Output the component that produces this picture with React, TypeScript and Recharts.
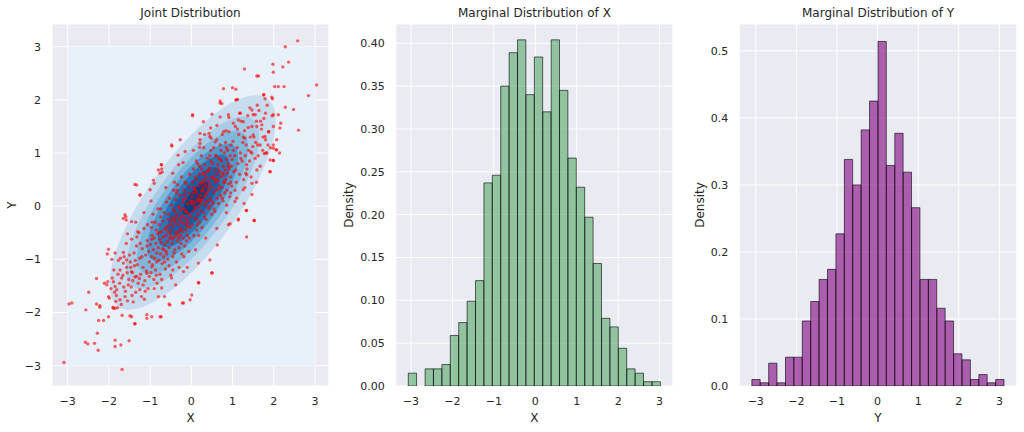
import React from 'react';
import { ScatterChart, Scatter, XAxis, YAxis, CartesianGrid, BarChart, Bar } from 'recharts';

const FONT = 'DejaVu Sans';
const TEXT = '#262626';

// ---------- tick labels ----------
const unitTicks = [-3, -2, -1, 0, 1, 2, 3];
const densityTicksX = [0, 0.05, 0.1, 0.15, 0.2, 0.25, 0.3, 0.35, 0.4];
const densityTicksY = [0, 0.1, 0.2, 0.3, 0.4, 0.5];

// ---------- titles ----------
const titles = ['Joint Distribution', 'Marginal Distribution of X', 'Marginal Distribution of Y'];

// ---------- marginal X histogram (bin centres, density) ----------
const xBinCenters = [-2.964, -2.761, -2.558, -2.355, -2.152, -1.950, -1.747, -1.544, -1.341, -1.138,
  -0.935, -0.733, -0.530, -0.327, -0.124, 0.079, 0.282, 0.485, 0.687, 0.890,
  1.093, 1.296, 1.499, 1.702, 1.904, 2.107, 2.310, 2.513, 2.716, 2.919];
const xDensity = [0.015, 0, 0.020, 0.020, 0.025, 0.059, 0.074, 0.099, 0.123, 0.237,
  0.246, 0.350, 0.389, 0.404, 0.340, 0.384, 0.320, 0.404, 0.345, 0.266,
  0.232, 0.197, 0.143, 0.079, 0.069, 0.044, 0.020, 0.015, 0.005, 0.005];

// ---------- marginal Y histogram ----------
const yBinCenters = [-2.992, -2.785, -2.578, -2.371, -2.164, -1.957, -1.750, -1.543, -1.336, -1.129,
  -0.922, -0.715, -0.508, -0.301, -0.094, 0.114, 0.321, 0.528, 0.735, 0.942,
  1.149, 1.356, 1.563, 1.770, 1.977, 2.184, 2.391, 2.598, 2.805, 3.012];
const yDensity = [0.0097, 0.0048, 0.034, 0.0048, 0.043, 0.043, 0.097, 0.126, 0.159, 0.174,
  0.227, 0.338, 0.300, 0.382, 0.425, 0.514, 0.329, 0.377, 0.319, 0.266,
  0.159, 0.159, 0.116, 0.097, 0.048, 0.039, 0.0097, 0.017, 0.0048, 0.0097];

// ---------- KDE filled contour levels (outline vertices, data units) ----------
const kdeColors = ['#e8f1fa', '#c7dcef', '#a8cce6', '#80b8dc', '#5499cb', '#2b78b9', '#1160a7', '#093f80'];
const kdeLevel0: [number, number][] = [[-3, -3], [3, -3], [3, 3], [-3, 3]];
const kdeLevel1: [number, number][] = [[2.01, 2.05], [2.11, 1.43], [1.65, 0.43], [0.75, -0.65], [-0.33, -1.55], [-1.33, -2.01], [-1.95, -1.91], [-2.05, -1.29], [-1.59, -0.29], [-0.69, 0.79], [0.39, 1.69], [1.39, 2.15]];
const kdeLevel2: [number, number][] = [[1.62, 1.66], [1.70, 1.16], [1.33, 0.36], [0.61, -0.51], [-0.26, -1.23], [-1.06, -1.60], [-1.56, -1.52], [-1.64, -1.02], [-1.27, -0.22], [-0.55, 0.65], [0.32, 1.37], [1.12, 1.74]];
const kdeLevel3: [number, number][] = [[1.36, 1.40], [1.42, 0.98], [1.12, 0.31], [0.51, -0.41], [-0.21, -1.02], [-0.88, -1.32], [-1.30, -1.26], [-1.36, -0.84], [-1.06, -0.17], [-0.45, 0.55], [0.27, 1.16], [0.94, 1.46]];
const kdeLevel4: [number, number][] = [[1.12, 1.16], [1.17, 0.82], [0.92, 0.27], [0.43, -0.33], [-0.17, -0.82], [-0.72, -1.07], [-1.06, -1.02], [-1.11, -0.68], [-0.86, -0.13], [-0.37, 0.47], [0.23, 0.96], [0.78, 1.21]];
const kdeLevel5: [number, number][] = [[0.92, 0.96], [0.96, 0.69], [0.76, 0.26], [0.37, -0.21], [-0.10, -0.60], [-0.53, -0.80], [-0.80, -0.76], [-0.84, -0.49], [-0.64, -0.06], [-0.25, 0.41], [0.22, 0.80], [0.65, 1.00]];
const kdeLevel6: [number, number][] = [[0.68, 0.72], [0.72, 0.53], [0.57, 0.21], [0.29, -0.13], [-0.05, -0.41], [-0.37, -0.56], [-0.56, -0.52], [-0.60, -0.33], [-0.45, -0.01], [-0.17, 0.33], [0.17, 0.61], [0.49, 0.76]];
const kdeLevel7: [number, number][] = [[0.41, 0.46], [0.42, 0.36], [0.35, 0.21], [0.21, 0.04], [0.04, -0.10], [-0.11, -0.17], [-0.21, -0.16], [-0.22, -0.06], [-0.15, 0.09], [-0.01, 0.26], [0.16, 0.40], [0.31, 0.47]];

// ---------- joint scatter points (x, y) ----------
const jointPoints: [number, number][] = [
  [2.58, 3.11], [2.28, 3.0], [2.36, 2.71], [2.22, 2.62], [1.98, 2.67], [1.99, 2.52], [1.29, 2.58], [1.63, 2.45], [1.59, 2.45], [2.02, 2.25],
  [2.11, 2.25], [2.25, 2.25], [3.04, 2.28], [2.84, 2.08], [1.97, 2.02], [1.79, 2.02], [1.76, 2.1], [2.28, 1.86], [2.48, 1.82], [2.6, 1.43],
  [0.78, 2.21], [1.0, 2.23], [1.08, 2.2], [1.08, 2.0], [1.12, 2.01], [0.03, 1.70], [0.7, 1.98], [0.74, 1.93], [0.91, 1.67], [1.99, 1.72],
  [2.11, 1.72], [1.99, 1.5], [2.17, 1.56], [2.15, 1.47], [1.79, 1.31], [1.99, 1.09], [2.07, 1.25], [2.07, 1.06], [2.14, 1.0], [1.83, 1.0],
  [1.77, 0.99], [1.99, 0.86], [1.91, 0.65], [1.47, 0.22], [1.53, -0.27], [1.34, -0.08], [1.14, -0.24], [0.94, -0.33], [1.34, -0.58], [0.5, -1.25],
  [0.18, -1.44], [0.01, -1.67], [-0.22, -1.82], [-0.54, -1.84], [-0.73, -2.08], [-0.96, -2.08], [-1.08, -2.11], [-1.37, -2.21], [-1.49, -2.06], [-1.51, -2.53],
  [-1.68, -3.07], [-1.71, -2.61], [-1.85, -2.52], [-1.85, -2.64], [-2.26, -2.71], [-2.28, -2.39], [-2.25, -2.15], [-2.13, -2.15], [-2.22, -1.87], [-2.3, -1.84],
  [-2.57, -2.56], [-2.51, -2.59], [-2.35, -2.58], [-2.56, -1.95], [-2.49, -1.62], [-2.3, -1.36], [-2.97, -1.84], [-2.9, -1.82], [-3.09, -2.94], [-2.01, -0.81],
  [-2.04, -0.9], [-2.03, -1.42], [-1.99, -1.73], [-1.89, -1.92], [-1.79, -1.91], [-1.83, -1.79], [-2.11, -1.45], [-1.85, -1.51], [-1.65, -0.23], [-1.59, -0.2],
  [-1.37, 0.41], [-1.24, 0.21], [-1.3, -0.48], [-1.65, -0.87], [-1.57, -1.01], [-1.42, -1.4], [-0.47, 1.13], [-0.73, 0.78], [-0.71, 0.64], [-0.9, 0.43],
  [-0.76, 0.62], [-0.31, 0.78], [0.21, 1.25], [0.2, 1.11], [0.47, 1.47], [0.43, 1.37],
  [-1.85, -0.88], [-1.93, -1.0], [-1.61, -0.16], [-1.58, -0.26], [-1.45, -0.29], [-2.01, -1.70], [-2.05, -1.48], [-1.89, -1.42], [-1.81, -1.57], [-2.22, -1.90],
  [-2.01, -2.08], [-1.85, -1.92], [-1.45, -2.08], [-1.08, -2.04], [-0.76, -2.08], [-1.37, -2.21], [-0.80, -1.70], [-0.52, -1.86], [-0.19, -1.82], [-0.03, -1.76],
  [0.17, -1.44], [0.45, -1.01], [0.50, -1.26], [1.52, -0.27], [1.14, -0.26], [0.90, -0.35], [0.63, -0.73], [0.86, 0.02], [1.06, 0.09], [1.33, -0.08],
  [0.17, -1.07], [-0.19, -1.23], [-0.48, -1.35], [-0.72, -1.54], [-1.17, -1.48], [-1.33, -1.32], [-1.45, -1.23], [-1.65, -1.07], [-1.73, -1.2], [-1.69, -1.35],
  [-1.53, -1.48], [-1.08, -1.26], [-0.96, -1.14], [-1.25, -1.57], [-1.61, -1.70], [-1.73, -1.76],
  [1.75, 2.09], [1.95, 2.05], [1.10, 2.0], [0.70, 1.94], [0.03, 1.72], [0.29, 1.59], [0.50, 1.73], [0.70, 1.68], [0.90, 1.72], [1.18, 1.75],
  [1.47, 1.81], [1.55, 1.72], [1.71, 1.53], [1.87, 1.40], [1.99, 1.15], [2.06, 1.06], [1.91, 0.87], [1.99, 0.86], [1.91, 0.65], [1.81, 1.0],
  [-0.27, 1.25], [-0.48, 1.15], [-0.32, 0.96], [-0.15, 1.03], [-0.72, 0.78], [-0.72, 0.70], [-0.80, 0.68], [-0.92, 0.49], [-1.33, 0.40], [-1.0, 0.31],
  [-1.25, 0.21], [0.21, 1.37], [0.21, 1.18], [0.45, 1.31], [0.58, 1.21], [0.78, 1.40], [1.02, 1.56], [1.26, 1.59], [1.59, 1.50], [1.30, 1.28],
  [1.50, 1.34], [1.67, 1.15], [1.47, 1.0], [1.34, 0.78], [1.59, 0.68], [1.47, 0.43], [1.26, 0.31], [1.34, 0.59],
  [-1.95, -1.55], [-1.88, -1.2], [-1.82, -1.68], [-1.77, -1.02], [-1.74, -1.45], [-1.7, -1.85], [-1.66, -1.3], [-1.63, -0.95], [-1.6, -1.6], [-1.57, -1.15],
  [-1.55, -1.78], [-1.52, -1.38], [-1.9, -1.9], [-1.68, -2.05], [-1.58, -0.7],
  [-1.48, -1.05], [-1.46, -1.52], [-1.45, -0.62], [-1.43, -1.25], [-1.41, -1.8], [-1.39, -0.88], [-1.37, -1.33], [-1.35, -1.62], [-1.33, -0.75], [-1.31, -1.1],
  [-1.29, -1.45], [-1.27, -0.5], [-1.25, -0.98], [-1.23, -1.28], [-1.21, -1.7], [-1.19, -0.8], [-1.17, -1.15], [-1.15, -0.42], [-1.13, -1.4], [-1.11, -0.92],
  [-1.09, -1.22], [-1.07, -0.65], [-1.05, -1.55], [-1.03, -0.85], [-1.02, -1.05], [-1.47, -1.15], [-1.36, -1.02], [-1.24, -0.7], [-1.12, -1.6], [-1.06, -0.35],
  [-0.99, -0.72], [-0.98, -1.25], [-0.97, -0.4], [-0.96, -0.95], [-0.95, -0.55], [-0.94, -1.1], [-0.93, -0.15], [-0.92, -0.82], [-0.91, -1.38], [-0.9, -0.6],
  [-0.89, -0.98], [-0.88, -0.3], [-0.87, -1.2], [-0.86, -0.7], [-0.85, -0.45], [-0.84, -0.88], [-0.83, -1.45], [-0.82, -0.52], [-0.81, -0.05], [-0.8, -0.78],
  [-0.79, -1.02], [-0.78, -0.35], [-0.77, -0.62], [-0.76, -1.28], [-0.75, -0.9], [-0.74, -0.2], [-0.73, -0.68], [-0.72, -0.48], [-0.71, -1.08], [-0.7, -0.8],
  [-0.69, -0.28], [-0.68, -0.58], [-0.67, -0.95], [-0.66, -0.12], [-0.65, -0.72], [-0.64, -0.42], [-0.63, -1.18], [-0.62, -0.55], [-0.61, -0.85], [-0.6, 0.08],
  [-0.59, -0.38], [-0.58, -0.66], [-0.57, -1.0], [-0.56, -0.25], [-0.55, -0.5], [-0.54, -0.78], [-0.53, 0.15], [-0.52, -0.6], [-0.51, -0.35], [-0.5, -1.3],
  [-0.49, -0.45], [-0.48, 0.02], [-0.47, -0.7], [-0.46, -0.22], [-0.45, -0.95], [-0.44, -0.38], [-0.43, 0.3], [-0.42, -0.58], [-0.41, -0.1], [-0.4, -0.82],
  [-0.39, -0.3], [-0.38, 0.12], [-0.37, -0.5], [-0.36, -1.05], [-0.35, -0.15], [-0.34, -0.65], [-0.33, 0.4], [-0.32, -0.35], [-0.31, -0.02], [-0.3, -0.78],
  [-0.29, -0.25], [-0.28, 0.2], [-0.27, -0.55], [-0.26, -0.08], [-0.25, -0.42], [-0.24, 0.55], [-0.23, -0.9], [-0.22, -0.18], [-0.21, 0.08], [-0.2, -0.6],
  [-0.19, -0.32], [-0.18, 0.3], [-0.17, -0.05], [-0.16, -0.75], [-0.15, -0.22], [-0.14, 0.15], [-0.13, -0.45], [-0.12, 0.42], [-0.11, -0.12], [-0.1, -0.55],
  [-0.09, 0.05], [-0.08, -0.3], [-0.07, 0.25], [-0.06, -0.85], [-0.05, -0.15], [-0.04, 0.6], [-0.03, -0.4], [-0.02, 0.1], [-0.01, -0.2], [-0.46, -0.62],
  [-0.41, 0.45], [-0.37, -0.2], [-0.33, -0.5], [-0.29, 0.0], [-0.25, -0.3], [-0.21, -0.48], [-0.17, 0.22], [-0.13, -0.1], [-0.09, -0.38], [-0.05, 0.35],
  [-0.44, -0.05], [-0.36, 0.25], [-0.28, -0.45], [-0.2, 0.12], [-0.12, -0.65],
  [0.01, 0.18], [0.02, -0.35], [0.03, 0.45], [0.04, -0.1], [0.05, 0.7], [0.06, -0.55], [0.07, 0.05], [0.08, 0.32], [0.09, -0.22], [0.1, 0.55],
  [0.11, -0.05], [0.12, 0.25], [0.13, -0.45], [0.14, 0.1], [0.15, 0.8], [0.16, -0.15], [0.17, 0.38], [0.18, 0.0], [0.19, 0.6], [0.2, -0.3],
  [0.21, 0.2], [0.22, 0.45], [0.23, -0.08], [0.24, 0.95], [0.25, 0.28], [0.26, -0.4], [0.27, 0.12], [0.28, 0.62], [0.29, 0.35], [0.3, -0.12],
  [0.31, 0.5], [0.32, 0.18], [0.33, 0.78], [0.34, 0.02], [0.35, 0.4], [0.36, -0.25], [0.37, 0.65], [0.38, 0.25], [0.39, 0.9], [0.4, 0.1],
  [0.41, 0.48], [0.42, -0.05], [0.43, 0.3], [0.44, 0.72], [0.45, 0.42], [0.46, 0.15], [0.47, 1.05], [0.48, 0.55], [0.49, -0.15], [0.04, 0.25],
  [0.08, -0.02], [0.12, 0.5], [0.16, 0.15], [0.2, 0.75], [0.24, 0.05], [0.28, 0.3], [0.32, -0.2], [0.36, 0.55], [0.4, 0.35], [0.44, 0.0],
  [0.48, 0.85], [0.06, 0.35], [0.14, -0.25], [0.22, 0.12], [0.3, 0.6],
  [0.5, 0.35], [0.51, 0.8], [0.52, 0.05], [0.53, 0.55], [0.54, 1.1], [0.55, 0.25], [0.56, 0.68], [0.57, -0.1], [0.58, 0.45], [0.59, 0.95],
  [0.6, 0.3], [0.61, 0.6], [0.62, 1.25], [0.63, 0.15], [0.64, 0.78], [0.65, 0.48], [0.66, 0.05], [0.67, 0.9], [0.68, 0.38], [0.69, 0.65],
  [0.7, 1.15], [0.71, 0.2], [0.72, 0.55], [0.73, 0.85], [0.74, 0.35], [0.75, 1.35], [0.76, 0.62], [0.77, 0.1], [0.78, 0.75], [0.79, 0.45],
  [0.8, 1.0], [0.81, 0.25], [0.82, 0.68], [0.83, 1.2], [0.84, 0.5], [0.85, 0.88], [0.86, 0.3], [0.87, 0.62], [0.88, 1.05], [0.89, 0.8],
  [0.9, 0.42], [0.91, 1.4], [0.92, 0.7], [0.93, 0.18], [0.94, 0.95], [0.95, 0.55], [0.96, 1.15], [0.97, 0.75], [0.98, 0.38], [0.99, 0.88],
  [1.01, 1.22], [1.03, 0.65], [1.05, 0.95], [1.07, 1.5], [1.09, 0.45], [1.11, 1.1], [1.13, 0.8], [1.15, 1.35], [1.17, 0.6], [1.19, 1.0],
  [1.21, 1.6], [1.23, 0.85], [1.25, 1.2], [1.27, 0.5], [1.29, 1.42], [1.31, 0.95], [1.33, 1.15], [1.35, 0.7], [1.37, 1.7], [1.39, 1.05],
  [1.41, 0.85], [1.43, 1.3], [1.45, 0.55], [1.47, 1.5], [1.49, 1.12], [1.06, 0.3], [1.18, 1.75], [1.3, 0.35], [1.42, 1.85], [1.12, 1.45],
  [1.52, 1.3], [1.55, 0.9], [1.58, 1.6], [1.61, 1.15], [1.64, 1.8], [1.67, 0.75], [1.7, 1.45], [1.73, 1.05], [1.76, 1.65], [1.8, 1.25],
  [1.84, 1.9], [1.88, 1.4], [1.92, 1.1], [1.96, 1.7], [1.6, 1.9],
  [-1.92, -1.35], [-1.86, -1.62], [-1.78, -1.28], [-1.72, -0.98], [-1.64, -1.52], [-1.56, -1.25], [-1.5, -0.92], [-1.44, -1.68], [-1.38, -1.12], [-1.32, -0.58],
  [-1.26, -1.36], [-1.2, -0.95], [-1.14, -1.75], [-1.08, -0.75], [-1.02, -1.32], [-0.96, -0.62], [-0.9, -1.55], [-0.84, -1.05], [-0.78, -0.5], [-0.72, -1.38],
  [-0.66, -0.82], [-0.6, -0.45], [-0.54, -1.12], [-0.48, -0.28], [-0.42, -0.88], [-0.36, -0.55], [-0.3, -1.15], [-0.24, -0.2], [-0.18, -0.95], [-0.12, -0.35],
  [0.12, 0.85], [0.18, -0.55], [0.24, 0.42], [0.3, 1.1], [0.36, 0.08], [0.42, 0.68], [0.48, 1.28], [0.54, 0.52], [0.6, 0.95], [0.66, 0.32],
  [0.72, 1.05], [0.78, 0.58], [0.84, 1.42], [0.9, 0.75], [0.96, 0.45], [1.02, 1.05], [1.08, 0.68], [1.14, 1.62], [1.2, 0.9], [1.26, 1.3],
  [1.32, 0.62], [1.38, 1.48], [1.44, 1.02], [1.5, 1.72], [1.56, 1.2], [1.62, 0.95], [1.68, 1.6], [1.74, 1.3], [1.8, 1.75], [1.86, 1.15],
  [-0.95, -0.3], [-0.85, -1.3], [-0.75, -0.05], [-0.65, -1.05], [-0.55, -0.15], [-0.45, -1.2], [-0.35, 0.3], [-0.25, -0.7], [-0.15, 0.45], [-0.05, -0.6],
  [0.05, 0.1], [0.15, -0.35], [0.25, 0.7], [0.35, 0.22], [0.45, 0.95], [0.55, -0.05], [0.65, 0.7], [0.75, 0.15], [0.85, 1.1], [0.95, 0.25],
  [-0.6, -0.9], [-0.5, -0.55], [-0.4, -0.25], [-0.3, -0.6], [-0.2, -0.05], [-0.1, -0.25], [0.0, 0.05], [0.1, 0.3], [0.2, 0.1], [0.3, 0.45],
  [0.4, 0.65], [0.5, 0.1], [0.6, 0.5], [0.7, 0.88], [0.8, 0.45],
  [-0.62, 0.35], [-0.45, 0.62], [-0.2, 0.82], [0.05, 1.05], [0.32, 1.35], [0.62, 1.52], [-0.98, 0.1], [-1.15, -0.12], [-1.35, -0.3], [-1.55, -0.52],
  [0.35, -0.6], [0.62, -0.42], [0.85, -0.12], [1.1, 0.15], [1.28, 0.05], [-0.1, -1.15], [-0.38, -1.48], [-0.65, -1.7], [0.1, -0.82], [1.58, 0.45],
];

// ---------- helpers ----------
const toXY = (pts: [number, number][]) => pts.map(([x, y]) => ({ x, y }));
const kdeLevels = [kdeLevel0, kdeLevel1, kdeLevel2, kdeLevel3, kdeLevel4, kdeLevel5, kdeLevel6, kdeLevel7];
const jointData = toXY(jointPoints);
const histX = xBinCenters.map((x, i) => ({ x, d: xDensity[i] }));
const histY = yBinCenters.map((x, i) => ({ x, d: yDensity[i] }));

const fmtUnit = (v: number) => (v < 0 ? '\u2212' + Math.abs(v) : String(v));
const fmt2 = (v: number) => v.toFixed(2);
const fmt1 = (v: number) => v.toFixed(1);

const tickStyle = { fill: TEXT, fontSize: 11, fontFamily: FONT };
const labelStyle = { fill: TEXT, fontSize: 12, fontFamily: FONT, textAnchor: 'middle' as const };

const NoShape = () => <g />;
const RedDot = (p: any) => (
  <circle cx={p.cx} cy={p.cy} r={1.7} fill="#ff0000" fillOpacity={0.6} />
);

const H = 432;

function JointPanel() {
  return (
    <ScatterChart width={340} height={H} margin={{ top: 24, right: 11, bottom: 6, left: 0 }}>
      <CartesianGrid fill="#eaeaf2" stroke="#ffffff" strokeWidth={1} />
      <XAxis type="number" dataKey="x" domain={[-3.381, 3.34]} ticks={unitTicks} allowDataOverflow
        axisLine={false} tickLine={false} tickMargin={5} interval={0} height={40}
        tick={tickStyle} tickFormatter={fmtUnit}
        label={{ value: 'X', position: 'insideBottom', offset: 4.5, style: labelStyle }} />
      <YAxis type="number" dataKey="y" domain={[-3.382, 3.427]} ticks={unitTicks} allowDataOverflow
        axisLine={false} tickLine={false} tickMargin={5} interval={0} width={52}
        tick={tickStyle} tickFormatter={fmtUnit}
        label={{ value: 'Y', angle: -90, position: 'insideLeft', offset: 11.7, style: labelStyle }} />
      {kdeLevels.map((lvl, i) => (
        <Scatter key={'kde' + i} data={toXY(lvl)} fill={kdeColors[i]} shape={NoShape}
          line={{ fill: kdeColors[i], stroke: 'none', strokeWidth: 0 }}
          lineType="joint" lineJointType={i === 0 ? 'linearClosed' : 'basisClosed'}
          isAnimationActive={false} />
      ))}
      <Scatter data={jointData} fill="#ff0000" shape={RedDot} isAnimationActive={false} />
    </ScatterChart>
  );
}

function HistPanel({ data, color, domainX, domainY, yTicks, yFmt, xLabel, yAxisWidth, width, rightMargin, labelOffset, barSize }: any) {
  return (
    <BarChart width={width} height={H} data={data} barGap={0} barCategoryGap={0}
      margin={{ top: 24, right: rightMargin, bottom: 6, left: 0 }}>
      <CartesianGrid fill="#eaeaf2" stroke="#ffffff" strokeWidth={1} />
      <XAxis type="number" dataKey="x" domain={domainX} ticks={unitTicks} allowDataOverflow
        axisLine={false} tickLine={false} tickMargin={5} interval={0} height={40}
        tick={tickStyle} tickFormatter={fmtUnit}
        label={{ value: xLabel, position: 'insideBottom', offset: 4.5, style: labelStyle }} />
      <YAxis type="number" domain={domainY} ticks={yTicks} allowDataOverflow
        axisLine={false} tickLine={false} tickMargin={5} interval={0} width={yAxisWidth}
        tick={tickStyle} tickFormatter={yFmt}
        label={{ value: 'Density', angle: -90, position: 'insideLeft', offset: labelOffset, style: labelStyle }} />
      <Bar dataKey="d" barSize={barSize} fill={color} fillOpacity={0.6}
        stroke="#000000" strokeOpacity={0.6} strokeWidth={1} isAnimationActive={false} />
    </BarChart>
  );
}

export default function App() {
  const titleX = [190.5, 534.4, 878];
  return (
    <div style={{ position: 'absolute', left: 0, top: 0, width: 1024, height: H, background: '#ffffff', overflow: 'hidden' }}>
      <div style={{ position: 'absolute', left: 0, top: 0 }}>
        <JointPanel />
      </div>
      <div style={{ position: 'absolute', left: 330, top: 0 }}>
        <HistPanel data={histX} color="#55a868" domainX={[-3.369, 3.324]} domainY={[0, 0.4225]}
          yTicks={densityTicksX} yFmt={fmt2} xLabel="X" yAxisWidth={65.7} width={350} rightMargin={7}
          labelOffset={18.5} barSize={8.3} />
      </div>
      <div style={{ position: 'absolute', left: 680, top: 0 }}>
        <HistPanel data={histY} color="#800080" domainX={[-3.405, 3.426]} domainY={[0, 0.54]}
          yTicks={densityTicksY} yFmt={fmt1} xLabel="Y" yAxisWidth={59.3} width={344} rightMargin={7.3}
          labelOffset={19.5} barSize={8.3} />
      </div>
      <svg width={1024} height={H} style={{ position: 'absolute', left: 0, top: 0, pointerEvents: 'none' }}>
        {titles.map((t, i) => (
          <text key={t} x={titleX[i]} y={16.5} textAnchor="middle" fontSize={12} fontFamily={FONT} fill={TEXT}>{t}</text>
        ))}
      </svg>
    </div>
  );
}
